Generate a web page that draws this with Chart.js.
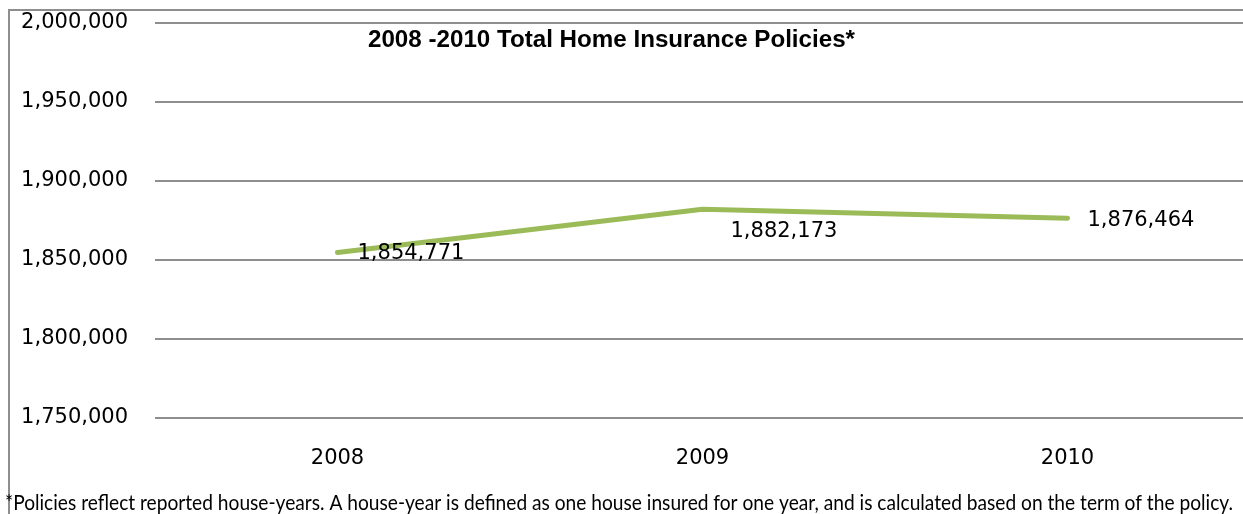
<!DOCTYPE html>
<html>
<head>
<meta charset="utf-8">
<script src="https://cdn.jsdelivr.net/npm/chart.js@4"></script>
<style>
  html, body { margin: 0; padding: 0; background: #fff; overflow: hidden; }
  #wrap { width: 1243px; height: 514px; overflow: hidden; position: relative; }
  canvas { display: block; }
</style>
</head>
<body>
<div id="wrap"><canvas id="c" width="1260" height="514"></canvas></div>
<script>
// Policy counts by year
const years = ['2008', '2009', '2010'];
const policies = [1854771, 1882173, 1876464];
const yTicks = [1750000, 1800000, 1850000, 1900000, 1950000, 2000000];

const titleText = '2008 -2010 Total Home Insurance Policies*';
const footnoteText = '*Policies reflect reported house-years. A house-year is defined as one house insured for one year, and is calculated based on the term of the policy.';

const fmt = v => Number(v).toLocaleString('en-US');
const GRID = '#8e8e8e';
const NUM_FONT = 'DejaVu Sans';

// Draw text squeezed/stretched to fill a given horizontal span
function drawFitted(ctx, text, font, left, right, baseline, color) {
  ctx.save();
  ctx.font = font;
  ctx.textAlign = 'left';
  ctx.textBaseline = 'alphabetic';
  ctx.fillStyle = color;
  const w = ctx.measureText(text).width;
  ctx.translate(left, baseline);
  ctx.scale((right - left) / w, 1);
  ctx.fillText(text, 0, 0);
  ctx.restore();
}

const framePlugin = {
  id: 'frame',
  beforeDraw(chart) {
    const ctx = chart.ctx;
    ctx.save();
    ctx.strokeStyle = GRID;
    ctx.lineWidth = 2;
    ctx.beginPath();
    ctx.moveTo(9, chart.height);
    ctx.lineTo(9, 10);
    ctx.lineTo(chart.width, 10);
    ctx.stroke();
    ctx.restore();
  }
};

const textPlugin = {
  id: 'texts',
  afterDraw(chart) {
    const ctx = chart.ctx;
    drawFitted(ctx, titleText, 'bold 23px "Liberation Sans"', 368, 855, 47, '#000');
    drawFitted(ctx, footnoteText, '21px Lato', 5, 1233, 510, '#000');
  }
};

const valueLabelPlugin = {
  id: 'valueLabels',
  afterDatasetsDraw(chart, args, opts) {
    const ctx = chart.ctx;
    const meta = chart.getDatasetMeta(0);
    const data = chart.data.datasets[0].data;
    ctx.save();
    ctx.font = '21px ' + NUM_FONT;
    ctx.fillStyle = '#000';
    ctx.textAlign = 'left';
    ctx.textBaseline = 'middle';
    meta.data.forEach((pt, i) => {
      const off = opts.offsets[i] || { dx: 20, dy: 0 };
      ctx.fillText(fmt(data[i]), pt.x + off.dx, pt.y + off.dy);
    });
    ctx.restore();
  }
};

new Chart(document.getElementById('c'), {
  type: 'line',
  data: {
    labels: years,
    datasets: [{
      data: policies,
      borderColor: '#9bbb59',
      borderWidth: 5,
      borderCapStyle: 'round',
      borderJoinStyle: 'round',
      pointRadius: 0,
      tension: 0,
      fill: false
    }]
  },
  options: {
    responsive: false,
    animation: false,
    devicePixelRatio: 1,
    layout: { padding: { top: 23, left: 0, right: 10, bottom: 0 } },
    plugins: {
      legend: { display: false },
      title: { display: false },
      tooltip: { enabled: false },
      valueLabels: {
        offsets: [{ dx: 20, dy: 1 }, { dx: 28, dy: 22 }, { dx: 20, dy: 2 }]
      }
    },
    scales: {
      x: {
        offset: true,
        grid: { display: false, drawTicks: false },
        border: { display: false },
        ticks: {
          padding: 28,
          maxRotation: 0,
          color: '#000',
          font: { family: NUM_FONT, size: 21 }
        },
        afterFit(scale) { scale.height = 96; }
      },
      y: {
        min: yTicks[0],
        max: yTicks[yTicks.length - 1],
        grid: { color: GRID, lineWidth: 2, drawTicks: false },
        border: { display: false },
        ticks: {
          stepSize: yTicks[1] - yTicks[0],
          padding: 27,
          color: '#000',
          font: { family: NUM_FONT, size: 21 },
          callback: v => fmt(v)
        },
        afterFit(scale) {
          scale.width = 155;
          scale.paddingTop = 0;
          scale.paddingBottom = 0;
        }
      }
    }
  },
  plugins: [framePlugin, textPlugin, valueLabelPlugin]
});
</script>
</body>
</html>
